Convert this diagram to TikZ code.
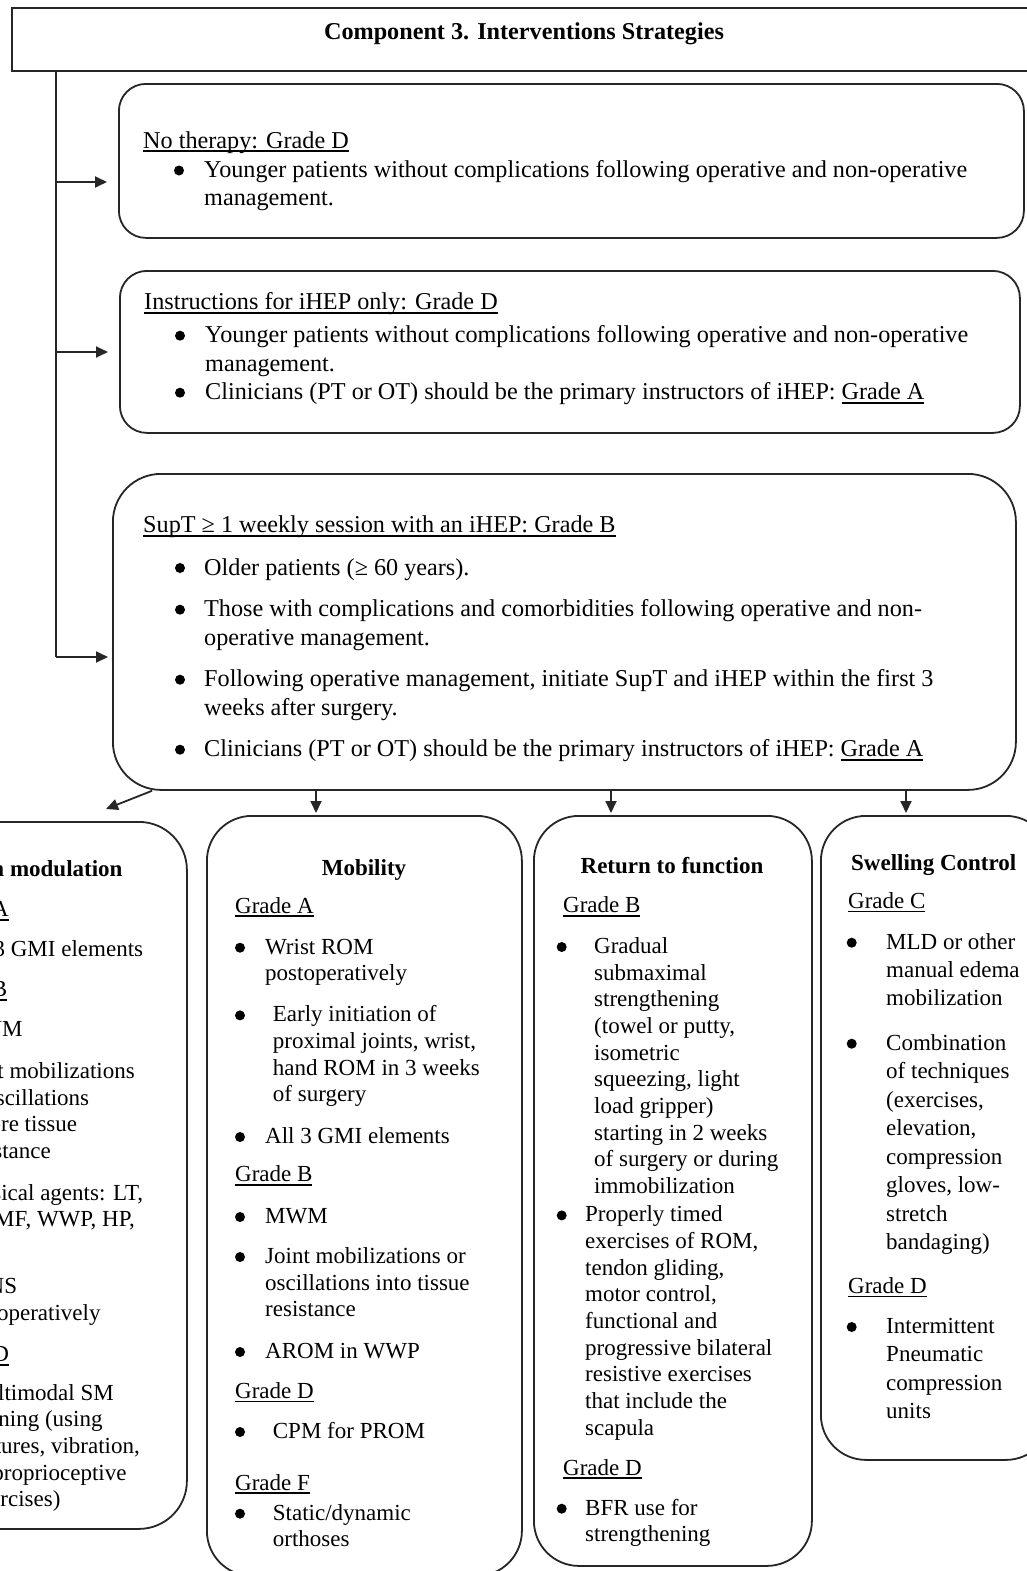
\documentclass[tikz,border=0pt]{standalone}
\usepackage{fontspec}
\setmainfont{Liberation Serif}
\usetikzlibrary{arrows.meta}
\newsavebox\gulbox
\newcommand\gul[1]{\sbox\gulbox{#1}\rlap{\rule[-3.8pt]{\wd\gulbox}{1.4pt}}\usebox\gulbox}
\tikzset{
  rbox/.style={draw=black!85, line width=1.8pt, rectangle, inner sep=0pt, anchor=north west},
  conn/.style={draw=black!85, line width=1.8pt},
  arr/.style={conn, -{Triangle[length=12pt,width=11pt]}},
  big/.style={font=\fontsize{24.2pt}{28.3pt}\selectfont, inner sep=0pt, anchor=base west, text=black},
  sml/.style={font=\fontsize{23pt}{26.7pt}\selectfont, inner sep=0pt, anchor=base west, text=black},
  hdr/.style={font=\bfseries\fontsize{23pt}{26.7pt}\selectfont, inner sep=0pt, anchor=base, text=black},
  bdot/.style={circle, fill=black, inner sep=0pt, minimum size=10pt},
}
\begin{document}
\begin{tikzpicture}[x=1pt,y=-1pt]
\fill[white] (0,0) rectangle (1027,1571);
\useasboundingbox (0,0) rectangle (1027,1571);
\clip (0,0) rectangle (1027,1571);

% ---------- title ----------
\node[rbox, minimum width=1040pt, minimum height=63pt] (title) at (11,7) {};
\node[font=\bfseries\fontsize{24.2pt}{28pt}\selectfont, inner sep=0pt, anchor=base, text=black] (titletxt) at (524,39.5) {Component 3. Interventions Strategies};

% ---------- box 1 ----------
\node[rbox, minimum width=905pt, minimum height=154pt, rounded corners=27pt] (b1) at (118,83) {};
\node[big] (b1h) at (143,148) {\gul{No therapy: Grade D}};
\node[bdot] (b1d1) at (179,170.5) {};
\node[big] (b1l1) at (204,177.5) {Younger patients without complications following operative and non-operative};
\node[big] (b1l2) at (204,205.8) {management.};

% ---------- box 2 ----------
\node[rbox, minimum width=900pt, minimum height=162pt, rounded corners=27pt] (b2) at (119,270) {};
\node[big] (b2h) at (144,309.7) {\gul{Instructions for iHEP only: Grade D}};
\node[bdot] (b2d1) at (180,335.7) {};
\node[big] (b2l1) at (205,342.7) {Younger patients without complications following operative and non-operative};
\node[big] (b2l2) at (205,371) {management.};
\node[bdot] (b2d2) at (180,392.7) {};
\node[big] (b2l3) at (205,399.7) {Clinicians (PT or OT) should be the primary instructors of iHEP: \gul{Grade A}};

% ---------- box 3 ----------
\node[rbox, minimum width=903pt, minimum height=316pt, rounded corners=48pt] (b3) at (112,473) {};
\node[big] (b3h) at (143,532.7) {\gul{SupT ≥ 1 weekly session with an iHEP: Grade B}};
\node[bdot] (b3d1) at (180,568) {};
\node[big] (b3l1) at (204,575) {Older patients (≥ 60 years).};
\node[bdot] (b3d2) at (180,609.7) {};
\node[big] (b3l2) at (204,616.7) {Those with complications and comorbidities following operative and non-};
\node[big] (b3l3) at (204,645) {operative management.};
\node[bdot] (b3d3) at (180,679.7) {};
\node[big] (b3l4) at (204,686.7) {Following operative management, initiate SupT and iHEP within the first 3};
\node[big] (b3l5) at (204,715) {weeks after surgery.};
\node[bdot] (b3d4) at (180,749.7) {};
\node[big] (b3l6) at (204,756.7) {Clinicians (PT or OT) should be the primary instructors of iHEP: \gul{Grade A}};

% ---------- left stem and arrows ----------
\coordinate (s1) at (56,182);
\coordinate (s2) at (56,352);
\coordinate (s3) at (56,657);
\draw[conn] (title.south -| s1) -- (s3);
\draw[arr, shorten >=11pt] (s1) -- (b1.west |- s1);
\draw[arr, shorten >=11pt] (s2) -- (b2.west |- s2);
\draw[arr, shorten >=4pt] (s3) -- (b3.west |- s3);

% ---------- bottom boxes ----------
\node[rbox, minimum width=246pt, minimum height=707pt, rounded corners=48pt] (pain) at (-60,821) {};
\node[rbox, minimum width=315pt, minimum height=760pt, rounded corners=45pt] (mob) at (206,815) {};
\node[rbox, minimum width=278pt, minimum height=750pt, rounded corners=45pt] (ret) at (533,815) {};
\node[rbox, minimum width=230pt, minimum height=644pt, rounded corners=45pt] (swl) at (820,815) {};

% ---------- arrows to bottom boxes ----------
\coordinate (dEnd) at (106,809);
\draw[arr] (b3.south -| 152,0) -- (dEnd);
\draw[arr, shorten >=2pt] (b3.south -| 316,0) -- (mob.north -| 316,0);
\draw[arr, shorten >=2pt] (b3.south -| 611,0) -- (ret.north -| 611,0);
\draw[arr, shorten >=2pt] (b3.south -| 906,0) -- (swl.north -| 906,0);

% ---------- pain modulation (cut off at left edge) ----------
\node[hdr, anchor=base east] (p0) at (122.7,876) {n modulation};
\node[sml, anchor=base east] (p1) at (9,916.7) {\gul{A}};
\node[sml, anchor=base east] (p2) at (143.3,956.7) {3 GMI elements};
\node[sml, anchor=base east] (p3) at (7.3,996.7) {\gul{B}};
\node[sml, anchor=base east] (p4) at (22.7,1036.7) {VM};
\node[sml, anchor=base east] (p5) at (135,1078.3) {t mobilizations};
\node[sml, anchor=base east] (p6) at (89.3,1105) {scillations};
\node[sml, anchor=base east] (p7) at (77.3,1131.7) {ore tissue};
\node[sml, anchor=base east] (p8) at (51,1158.3) {stance};
\node[sml, anchor=base east] (p9) at (143.3,1200) {sical agents: LT,};
\node[sml, anchor=base east] (p10) at (135,1226.7) {MF, WWP, HP,};
\node[sml, anchor=base east] (p11) at (17.3,1293.3) {NS};
\node[sml, anchor=base east] (p12) at (100.7,1320) {operatively};
\node[sml, anchor=base east] (p13) at (9.3,1361.7) {\gul{D}};
\node[sml, anchor=base east] (p14) at (114,1400) {ltimodal SM};
\node[sml, anchor=base east] (p15) at (102.7,1426.7) {ning (using};
\node[sml, anchor=base east] (p16) at (140,1453.3) {tures, vibration,};
\node[sml, anchor=base east] (p17) at (126.7,1480) {proprioceptive};
\node[sml, anchor=base east] (p18) at (60.7,1506.7) {rcises)};

% ---------- mobility ----------
\node[hdr] (m0) at (364,875) {Mobility};
\node[sml] (mgA) at (235,913) {\gul{Grade A}};
\node[bdot] (md1) at (240,947.7) {};
\node[sml] (m1) at (265,954) {Wrist ROM};
\node[sml] (m2) at (265,980.7) {postoperatively};
\node[bdot] (md2) at (240,1015.4) {};
\node[sml] (m3) at (272.7,1021.7) {Early initiation of};
\node[sml] (m4) at (272.7,1048.3) {proximal joints, wrist,};
\node[sml] (m5) at (272.7,1075) {hand ROM in 3 weeks};
\node[sml] (m6) at (272.7,1101.7) {of surgery};
\node[bdot] (md3) at (240,1137) {};
\node[sml] (m7) at (265,1143.3) {All 3 GMI elements};
\node[sml] (mgB) at (235,1181.7) {\gul{Grade B}};
\node[bdot] (md4) at (240,1217) {};
\node[sml] (m8) at (265,1223.3) {MWM};
\node[bdot] (md5) at (240,1257) {};
\node[sml] (m9) at (265,1263.3) {Joint mobilizations or};
\node[sml] (m10) at (265,1290) {oscillations into tissue};
\node[sml] (m11) at (265,1316.7) {resistance};
\node[bdot] (md6) at (240,1352) {};
\node[sml] (m12) at (265,1358.3) {AROM in WWP};
\node[sml] (mgD) at (235,1398.3) {\gul{Grade D}};
\node[bdot] (md7) at (240,1432) {};
\node[sml] (m13) at (272.7,1438.3) {CPM for PROM};
\node[sml] (mgF) at (235,1490) {\gul{Grade F}};
\node[bdot] (md8) at (240,1513.7) {};
\node[sml] (m14) at (272.7,1520) {Static/dynamic};
\node[sml] (m15) at (272.7,1546.7) {orthoses};

% ---------- return to function ----------
\node[hdr] (r0) at (672,873) {Return to function};
\node[sml] (rgB) at (563,912.7) {\gul{Grade B}};
\node[bdot] (rd1) at (561.7,947) {};
\node[sml] (r1) at (594,953.3) {Gradual};
\node[sml] (r2) at (594,980) {submaximal};
\node[sml] (r3) at (594,1006.7) {strengthening};
\node[sml] (r4) at (594,1033.3) {(towel or putty,};
\node[sml] (r5) at (594,1060) {isometric};
\node[sml] (r6) at (594,1086.7) {squeezing, light};
\node[sml] (r7) at (594,1113.3) {load gripper)};
\node[sml] (r8) at (594,1140) {starting in 2 weeks};
\node[sml] (r9) at (594,1166.7) {of surgery or during};
\node[sml] (r10) at (594,1193.3) {immobilization};
\node[bdot] (rd2) at (561.7,1215.4) {};
\node[sml] (r11) at (585,1221.7) {Properly timed};
\node[sml] (r12) at (585,1248.3) {exercises of ROM,};
\node[sml] (r13) at (585,1275) {tendon gliding,};
\node[sml] (r14) at (585,1301.7) {motor control,};
\node[sml] (r15) at (585,1328.3) {functional and};
\node[sml] (r16) at (585,1355) {progressive bilateral};
\node[sml] (r17) at (585,1381.7) {resistive exercises};
\node[sml] (r18) at (585,1408.3) {that include the};
\node[sml] (r19) at (585,1435) {scapula};
\node[sml] (rgD) at (563,1475) {\gul{Grade D}};
\node[bdot] (rd3) at (561.7,1508.7) {};
\node[sml] (r20) at (585,1515) {BFR use for};
\node[sml] (r21) at (585,1541.7) {strengthening};

% ---------- swelling control ----------
\node[hdr, anchor=base west] (w0) at (851,870) {Swelling Control};
\node[sml] (wgC) at (848,908.3) {\gul{Grade C}};
\node[bdot] (wd1) at (851.7,942.7) {};
\node[sml] (w1) at (886,949) {MLD or other};
\node[sml] (w2) at (886,977.3) {manual edema};
\node[sml] (w3) at (886,1005.7) {mobilization};
\node[bdot] (wd2) at (851.7,1043.7) {};
\node[sml] (w4) at (886,1050) {Combination};
\node[sml] (w5) at (886,1078.5) {of techniques};
\node[sml] (w6) at (886,1107) {(exercises,};
\node[sml] (w7) at (886,1135.5) {elevation,};
\node[sml] (w8) at (886,1164) {compression};
\node[sml] (w9) at (886,1192.5) {gloves, low-};
\node[sml] (w10) at (886,1221) {stretch};
\node[sml] (w11) at (886,1249.5) {bandaging)};
\node[sml] (wgD) at (848,1293.3) {\gul{Grade D}};
\node[bdot] (wd3) at (851.7,1327) {};
\node[sml] (w12) at (886,1333.3) {Intermittent};
\node[sml] (w13) at (886,1361.7) {Pneumatic};
\node[sml] (w14) at (886,1390) {compression};
\node[sml] (w15) at (886,1418.3) {units};
\end{tikzpicture}
\end{document}
